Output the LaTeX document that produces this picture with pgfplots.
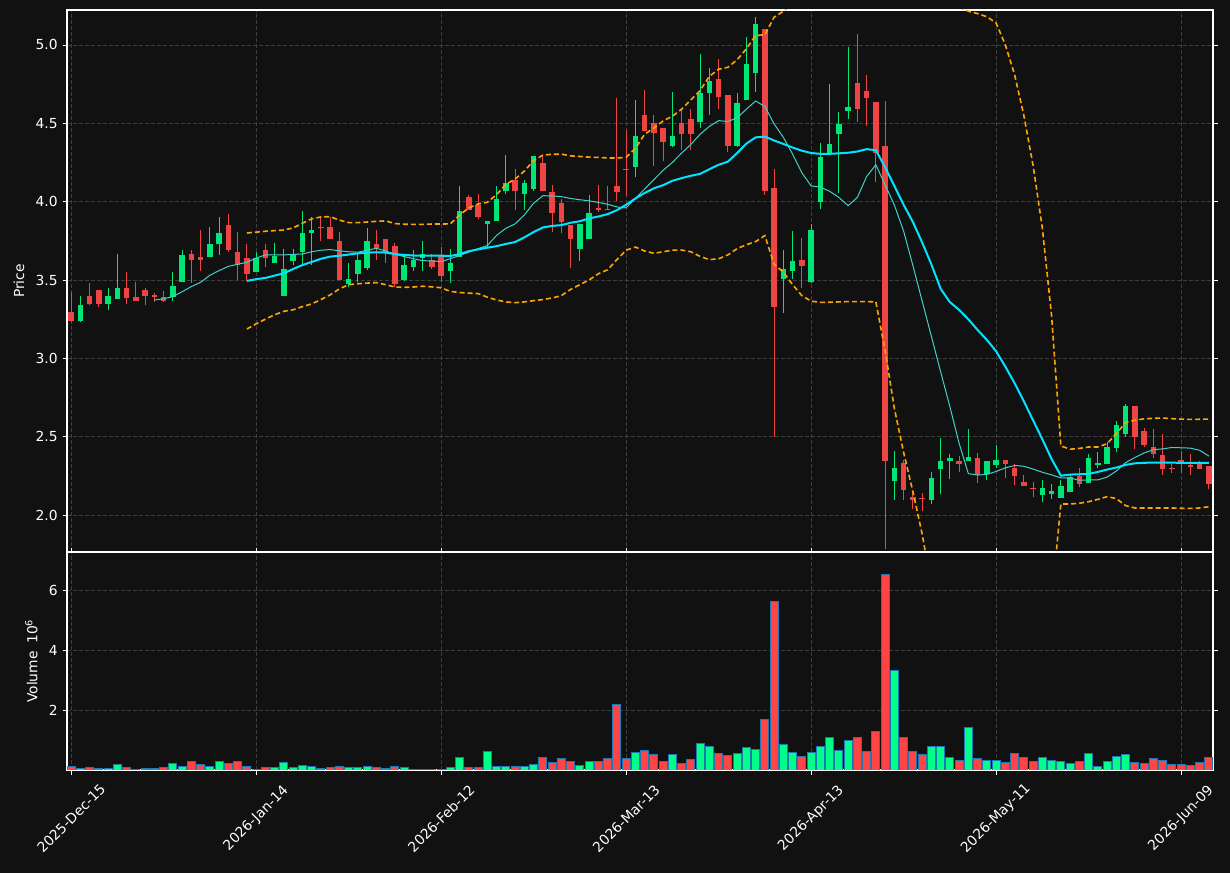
\documentclass[border=0pt]{standalone}
\usepackage{pgfplots}
\pgfplotsset{compat=1.18}
\usepackage{pgfplotstable}
\usepackage{fontspec}
\setmainfont{DejaVu Sans}
\definecolor{bg}{RGB}{17,17,17}
\definecolor{upc}{RGB}{0,230,118}
\definecolor{dnc}{RGB}{239,68,68}
\definecolor{vup}{RGB}{0,255,136}
\definecolor{vdn}{RGB}{255,68,68}
\definecolor{vedge}{RGB}{31,119,180}
\definecolor{gridc}{RGB}{62,62,62}
\definecolor{mafast}{RGB}{64,210,200}
\definecolor{maslow}{RGB}{0,229,255}
\definecolor{bbc}{RGB}{255,165,0}

\pgfplotstableread{
i O H L C V
1 3.236 3.398 3.230 3.343 0.04
4 3.345 3.449 3.309 3.398 0.04
5 3.377 3.666 3.377 3.451 0.18
11 3.391 3.553 3.366 3.462 0.21
12 3.485 3.691 3.485 3.662 0.11
15 3.645 3.840 3.645 3.732 0.11
16 3.728 3.904 3.662 3.802 0.28
20 3.549 3.679 3.549 3.643 0.02
22 3.606 3.736 3.606 3.651 0.08
23 3.396 3.698 3.396 3.570 0.24
24 3.619 3.698 3.598 3.668 0.08
25 3.677 3.943 3.598 3.802 0.14
26 3.802 3.900 3.598 3.821 0.11
30 3.477 3.611 3.453 3.509 0.08
31 3.536 3.666 3.485 3.630 0.08
32 3.574 3.832 3.566 3.751 0.11
36 3.502 3.666 3.491 3.598 0.08
37 3.585 3.691 3.557 3.630 0.03
38 3.638 3.751 3.557 3.668 0.03
41 3.557 3.699 3.483 3.610 0.08
42 3.646 4.100 3.646 3.943 0.41
45 3.856 3.879 3.708 3.879 0.61
46 3.875 4.100 3.875 4.019 0.11
47 4.066 4.297 4.049 4.121 0.11
49 4.049 4.138 3.947 4.121 0.11
50 4.083 4.292 4.068 4.292 0.18
55 3.697 3.860 3.621 3.860 0.14
56 3.761 4.040 3.761 3.930 0.28
61 4.219 4.649 4.155 4.421 0.57
65 4.357 4.700 4.347 4.421 0.51
68 4.506 4.943 4.470 4.696 0.90
69 4.691 4.853 4.553 4.772 0.80
72 4.357 4.696 4.347 4.632 0.54
73 4.647 5.051 4.647 4.881 0.74
74 4.819 5.181 4.700 5.134 0.67
77 3.504 3.691 3.291 3.570 0.84
78 3.555 3.811 3.506 3.623 0.57
80 3.485 3.857 3.479 3.821 0.57
81 3.995 4.372 3.951 4.283 0.77
82 4.308 4.752 4.308 4.366 1.10
83 4.432 4.574 4.053 4.494 0.64
84 4.579 4.984 4.530 4.603 1.00
89 2.216 2.409 2.098 2.298 3.32
93 2.094 2.276 2.072 2.238 0.77
94 2.294 2.489 2.132 2.343 0.80
95 2.345 2.387 2.227 2.363 0.41
97 2.345 2.551 2.345 2.369 1.43
99 2.260 2.343 2.223 2.343 0.31
100 2.318 2.449 2.297 2.350 0.31
105 2.129 2.222 2.081 2.171 0.41
106 2.136 2.201 2.102 2.153 0.31
107 2.110 2.222 2.110 2.182 0.28
108 2.148 2.258 2.148 2.244 0.21
110 2.206 2.392 2.206 2.362 0.54
111 2.316 2.400 2.297 2.331 0.11
112 2.328 2.464 2.328 2.432 0.28
113 2.430 2.602 2.400 2.572 0.44
114 2.517 2.710 2.498 2.693 0.51
}\upt

\pgfplotstableread{
i O H L C V
0 3.298 3.421 3.230 3.236 0.11
2 3.398 3.481 3.340 3.345 0.08
3 3.438 3.438 3.326 3.345 0.04
6 3.451 3.553 3.347 3.387 0.08
7 3.394 3.489 3.364 3.364 0.02
8 3.438 3.449 3.340 3.396 0.04
9 3.398 3.417 3.362 3.394 0.04
10 3.391 3.432 3.357 3.366 0.08
13 3.668 3.691 3.481 3.626 0.28
14 3.649 3.821 3.557 3.626 0.18
17 3.853 3.921 3.679 3.689 0.21
18 3.681 3.806 3.500 3.596 0.28
19 3.643 3.730 3.496 3.536 0.11
21 3.691 3.730 3.585 3.638 0.08
27 3.834 3.900 3.747 3.830 0.04
28 3.840 3.900 3.760 3.760 0.08
29 3.751 3.806 3.502 3.502 0.11
33 3.732 3.819 3.626 3.704 0.08
34 3.764 3.764 3.609 3.674 0.04
35 3.719 3.736 3.453 3.477 0.11
39 3.630 3.668 3.568 3.585 0.03
40 3.653 3.709 3.485 3.523 0.03
43 4.032 4.042 3.947 3.947 0.08
44 3.981 4.049 3.892 3.900 0.08
48 4.138 4.208 3.947 4.066 0.11
51 4.248 4.288 4.066 4.066 0.41
52 4.064 4.108 3.805 3.926 0.24
53 3.994 4.015 3.799 3.869 0.37
54 3.852 3.852 3.578 3.761 0.28
57 3.962 4.108 3.936 3.945 0.28
58 3.951 4.100 3.949 3.949 0.37
59 4.102 4.660 4.006 4.059 2.19
60 4.204 4.460 4.038 4.200 0.37
62 4.555 4.713 4.449 4.449 0.64
63 4.504 4.553 4.226 4.436 0.51
64 4.472 4.472 4.257 4.379 0.28
66 4.504 4.589 4.332 4.430 0.21
67 4.530 4.589 4.332 4.434 0.34
70 4.783 4.911 4.589 4.666 0.54
71 4.683 4.683 4.319 4.357 0.47
75 5.102 5.102 4.043 4.066 1.70
76 4.087 4.209 2.498 3.326 5.63
79 3.630 3.768 3.449 3.589 0.44
85 4.756 5.067 4.508 4.592 1.07
86 4.705 4.807 4.485 4.663 0.61
87 4.634 4.634 4.124 4.312 1.27
88 4.354 4.645 1.780 2.345 6.52
90 2.331 2.349 2.098 2.161 1.07
91 2.116 2.150 2.039 2.094 0.61
92 2.102 2.138 2.028 2.100 0.51
96 2.347 2.378 2.272 2.327 0.31
98 2.367 2.398 2.205 2.254 0.37
101 2.350 2.350 2.239 2.328 0.24
102 2.299 2.324 2.189 2.248 0.54
103 2.210 2.258 2.184 2.184 0.41
104 2.174 2.208 2.112 2.163 0.28
109 2.248 2.297 2.180 2.201 0.28
115 2.693 2.693 2.422 2.498 0.24
116 2.534 2.555 2.432 2.447 0.21
117 2.432 2.551 2.367 2.390 0.37
118 2.381 2.519 2.258 2.294 0.31
119 2.298 2.324 2.271 2.294 0.18
120 2.350 2.407 2.271 2.337 0.18
121 2.313 2.392 2.258 2.309 0.14
122 2.326 2.347 2.294 2.294 0.24
123 2.311 2.311 2.163 2.199 0.41
}\dnt

% 10-bar average (thin line)
\pgfplotstableread{
i v
9 3.372
10 3.380
11 3.394
12 3.425
13 3.458
14 3.485
15 3.530
16 3.560
17 3.587
18 3.600
19 3.613
20 3.640
21 3.660
22 3.660
23 3.660
24 3.663
25 3.666
26 3.680
27 3.690
28 3.694
29 3.686
30 3.680
31 3.677
32 3.690
33 3.702
34 3.685
35 3.665
36 3.649
37 3.636
38 3.623
39 3.622
40 3.617
41 3.636
42 3.656
43 3.678
44 3.700
45 3.720
46 3.785
47 3.830
48 3.858
49 3.915
50 3.990
51 4.038
52 4.036
53 4.032
54 4.020
55 4.012
56 4.005
57 3.995
58 3.983
59 3.966
60 3.960
61 4.020
62 4.080
63 4.140
64 4.200
65 4.250
66 4.310
67 4.365
68 4.430
69 4.480
70 4.517
71 4.511
72 4.535
73 4.590
74 4.642
75 4.607
76 4.496
77 4.410
78 4.303
79 4.184
80 4.100
81 4.093
82 4.066
83 4.027
84 3.974
85 4.027
86 4.160
87 4.235
88 4.107
89 3.978
90 3.812
91 3.593
92 3.366
93 3.141
94 2.915
95 2.692
96 2.458
97 2.264
98 2.255
99 2.259
100 2.278
101 2.301
102 2.316
103 2.311
104 2.293
105 2.273
106 2.256
107 2.237
108 2.236
109 2.222
110 2.224
111 2.224
112 2.242
113 2.281
114 2.334
115 2.367
116 2.396
117 2.417
118 2.422
119 2.431
120 2.429
121 2.427
122 2.413
123 2.376
}\fastt

% 20-bar average and bands
\pgfplotstableread{
i m u l
19 3.494 3.800 3.187
20 3.505 3.805 3.220
21 3.513 3.811 3.250
22 3.528 3.815 3.278
23 3.543 3.819 3.300
24 3.570 3.832 3.310
25 3.595 3.862 3.330
26 3.615 3.890 3.347
27 3.635 3.902 3.375
28 3.649 3.904 3.405
29 3.655 3.882 3.443
30 3.662 3.866 3.470
31 3.670 3.866 3.476
32 3.675 3.870 3.480
33 3.677 3.874 3.483
34 3.675 3.877 3.470
35 3.665 3.860 3.455
36 3.660 3.856 3.453
37 3.656 3.855 3.455
38 3.655 3.855 3.460
39 3.656 3.857 3.456
40 3.655 3.857 3.450
41 3.653 3.858 3.427
42 3.665 3.915 3.420
43 3.684 3.960 3.416
44 3.695 3.985 3.413
45 3.706 3.996 3.390
46 3.716 4.045 3.372
47 3.730 4.110 3.360
48 3.742 4.144 3.355
49 3.772 4.195 3.360
50 3.806 4.262 3.368
51 3.835 4.297 3.375
52 3.845 4.302 3.385
53 3.850 4.303 3.400
54 3.865 4.292 3.440
55 3.875 4.288 3.470
56 3.893 4.284 3.500
57 3.905 4.282 3.540
58 3.920 4.279 3.565
59 3.945 4.278 3.630
60 3.980 4.283 3.690
61 4.020 4.340 3.710
62 4.055 4.430 3.685
63 4.085 4.470 3.670
64 4.105 4.515 3.680
65 4.133 4.545 3.690
66 4.150 4.590 3.691
67 4.165 4.650 3.680
68 4.177 4.709 3.650
69 4.207 4.800 3.630
70 4.235 4.845 3.635
71 4.255 4.857 3.660
72 4.310 4.905 3.700
73 4.370 4.975 3.725
74 4.410 5.060 3.745
75 4.415 5.065 3.783
76 4.390 5.177 3.600
77 4.368 5.215 3.550
78 4.345 5.260 3.470
79 4.325 5.270 3.400
80 4.310 5.270 3.365
81 4.305 5.270 3.357
82 4.305 5.270 3.358
83 4.308 5.275 3.360
84 4.312 5.275 3.362
85 4.320 5.280 3.362
86 4.335 5.280 3.362
87 4.328 5.280 3.360
88 4.220 5.520 3.050
89 4.100 5.700 2.680
90 3.980 5.800 2.400
91 3.870 5.850 2.150
92 3.740 5.880 1.880
93 3.600 5.850 1.550
94 3.444 5.700 1.200
95 3.359 5.400 1.000
96 3.309 5.240 0.900
97 3.249 5.215 0.850
98 3.181 5.200 0.850
99 3.118 5.180 0.850
100 3.045 5.140 0.850
101 2.947 5.000 0.870
102 2.841 4.810 0.880
103 2.726 4.550 0.900
104 2.604 4.230 0.980
105 2.483 3.830 1.130
106 2.357 3.270 1.450
107 2.251 2.441 2.070
108 2.258 2.420 2.070
109 2.260 2.425 2.075
110 2.262 2.434 2.085
111 2.275 2.434 2.100
112 2.290 2.455 2.117
113 2.303 2.520 2.105
114 2.320 2.590 2.060
115 2.330 2.605 2.045
116 2.333 2.614 2.045
117 2.335 2.617 2.045
118 2.335 2.619 2.045
119 2.334 2.615 2.045
120 2.333 2.612 2.043
121 2.333 2.610 2.042
122 2.333 2.611 2.045
123 2.333 2.612 2.053
}\slowt

\pgfplotsset{
  darkax/.style={
    scale only axis, width=11.46in,
    xmin=-0.45, xmax=123.45,
    axis line style={white, line width=0.012in},
    tick align=outside, major tick length=0.045in,
    tick style={white, line width=0.008in},
    ticklabel style={white, font=\fontsize{10}{12}\selectfont},
    label style={white, font=\fontsize{10}{12}\selectfont},
    grid=major,
    major grid style={gridc, line width=0.008in, dash pattern=on 0.04in off 0.02in},
    xtick={0,20,...,120},
    /pgf/number format/assume math mode=true,
  },
  candle/.style={draw=none, mark=none, forget plot,
    error bars/.cd, y dir=plus, y explicit, error mark=none,
    error bar style={draw=#1, line width=0.01in, line cap=butt}},
  cbody/.style={draw=none, mark=none, forget plot,
    error bars/.cd, y dir=plus, y explicit, error mark=none,
    error bar style={draw=#1, line width=0.055in, line cap=butt}},
}

\begin{document}
\begin{tikzpicture}
\fill[bg] (0,0) rectangle (12.3in,8.73in);

% price panel
\begin{axis}[darkax,
  at={(0.67in,3.21in)}, anchor=south west, height=5.42in,
  ymin=1.764, ymax=5.223,
  ytick={2,2.5,...,5},
  yticklabel style={/pgf/number format/.cd, fixed, fixed zerofill, precision=1},
  xticklabels={},
  major x tick style={draw=none},
  ylabel={Price},
  ylabel style={at={(axis description cs:-0.042,0.5)}, anchor=center},
]
% wicks
\addplot[candle=upc] table[x=i, y=L, y error expr=\thisrow{H}-\thisrow{L}]{\upt};
\addplot[candle=dnc] table[x=i, y=L, y error expr=\thisrow{H}-\thisrow{L}]{\dnt};
% bodies
\addplot[cbody=upc] table[x=i, y=O, y error expr={max(\thisrow{C}-\thisrow{O},0.007)}]{\upt};
\addplot[cbody=dnc] table[x=i, y=C, y error expr={max(\thisrow{O}-\thisrow{C},0.007)}]{\dnt};
% averages and bands
\addplot[mafast, line width=0.01in, mark=none] table[x=i, y=v]{\fastt};
\addplot[maslow, line width=0.02in, mark=none] table[x=i, y=m]{\slowt};
\addplot[bbc, line width=0.016in, mark=none, dash pattern=on 0.05in off 0.03in] table[x=i, y=u]{\slowt};
\addplot[bbc, line width=0.016in, mark=none, dash pattern=on 0.05in off 0.03in] table[x=i, y=l]{\slowt};
\end{axis}

% volume panel
\begin{axis}[darkax,
  at={(0.67in,1.03in)}, anchor=south west, height=2.18in,
  ymin=0, ymax=7.27,
  ytick={2,4,6},
  xticklabels={2025-Dec-15,2026-Jan-14,2026-Feb-12,2026-Mar-13,2026-Apr-13,2026-May-11,2026-Jun-09},
  xticklabel style={yshift=-0.44in, rotate=45, anchor=center},
  ylabel={Volume\hspace{0.55em}10\textsuperscript{6}},
  ylabel style={at={(axis description cs:-0.031,0.5)}, anchor=center},
]
\addplot[ybar, bar shift=0pt, bar width=0.88, fill=vup, draw=vedge, line width=0.01in] table[x=i, y=V]{\upt};
\addplot[ybar, bar shift=0pt, bar width=0.88, fill=vdn, draw=vedge, line width=0.01in] table[x=i, y=V]{\dnt};
\end{axis}
\pgfresetboundingbox
\useasboundingbox (0,0) rectangle (12.3in,8.73in);
\end{tikzpicture}
\end{document}
